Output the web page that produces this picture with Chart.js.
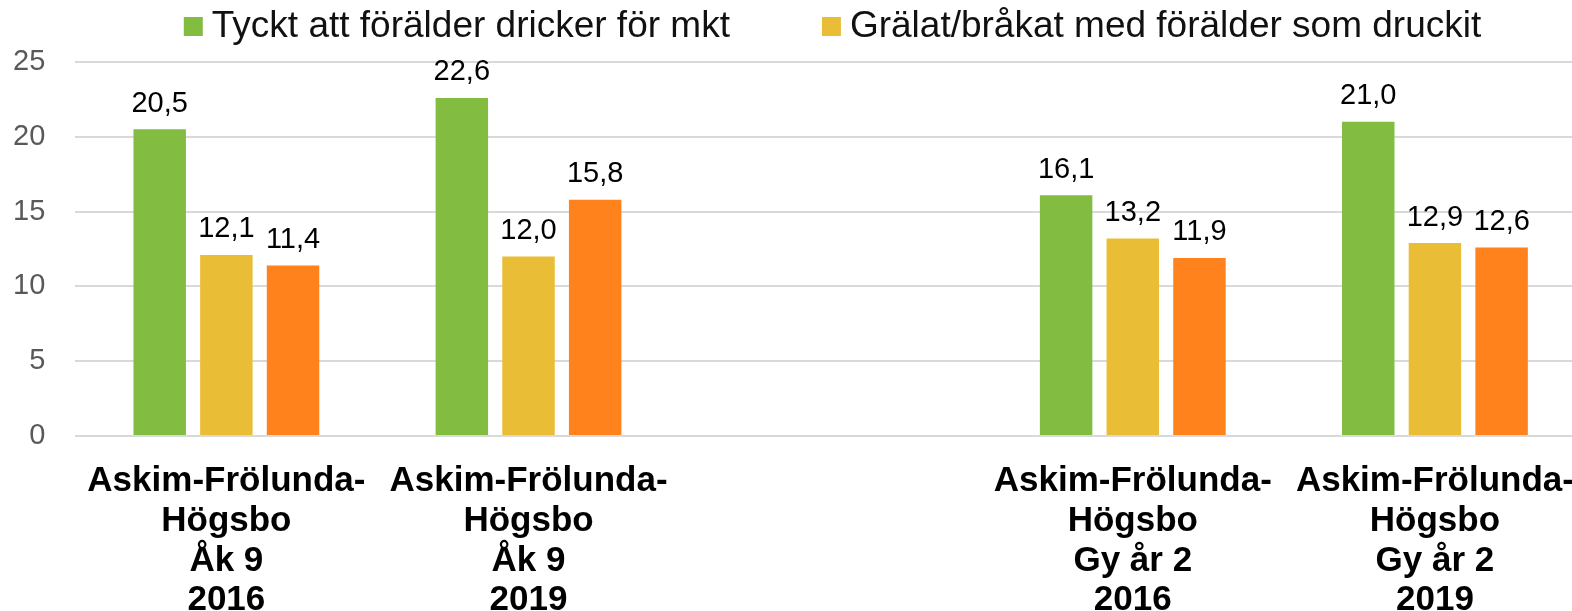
<!DOCTYPE html>
<html>
<head>
<meta charset="utf-8">
<script src="https://cdn.jsdelivr.net/npm/chart.js@4"></script>
<style>
  html, body { margin: 0; padding: 0; background: #fff; overflow: hidden; }
  #wrap { width: 1572px; height: 611px; overflow: hidden; position: relative; }
  canvas { display: block; }
</style>
</head>
<body>
<div id="wrap"><canvas id="c" width="1590" height="611"></canvas></div>
<script>
// ---- data ----
const categories = [
  ['Askim-Frölunda-', 'Högsbo', 'Åk 9', '2016'],
  ['Askim-Frölunda-', 'Högsbo', 'Åk 9', '2019'],
  '',
  ['Askim-Frölunda-', 'Högsbo', 'Gy år 2', '2016'],
  ['Askim-Frölunda-', 'Högsbo', 'Gy år 2', '2019']
];
const seriesNames = ['Tyckt att förälder dricker för mkt', 'Grälat/bråkat med förälder som druckit', ''];
const tycktValues = [20.5, 22.6, null, 16.1, 21.0];
const gralatValues = [12.1, 12.0, null, 13.2, 12.9];
const thirdValues = [11.4, 15.8, null, 11.9, 12.6];
const yTicks = [0, 5, 10, 15, 20, 25];

const FONT = '"Liberation Sans", Arial, Helvetica, sans-serif';
Chart.defaults.font.family = FONT;

const fmt = v => v.toFixed(1).replace('.', ',');

// value labels above bars
const valueLabels = {
  id: 'valueLabels',
  afterDatasetsDraw(chart) {
    const ctx = chart.ctx;
    ctx.save();
    ctx.font = '29px ' + FONT;
    ctx.fillStyle = '#000';
    ctx.textAlign = 'center';
    ctx.textBaseline = 'alphabetic';
    chart.data.datasets.forEach((ds, di) => {
      const meta = chart.getDatasetMeta(di);
      meta.data.forEach((el, i) => {
        const v = ds.data[i];
        if (v === null || v === undefined) return;
        ctx.fillText(fmt(v), el.x, el.y - 17.5);
      });
    });
    ctx.restore();
  }
};

// legend (only the first two entries are visible in the original)
const topLegend = {
  id: 'topLegend',
  afterDraw(chart, args, opts) {
    const ctx = chart.ctx;
    ctx.save();
    ctx.font = opts.fontSize + 'px ' + FONT;
    const items = chart.data.datasets.slice(0, opts.count).map(ds => ({
      text: ds.label, color: ds.backgroundColor, w: ctx.measureText(ds.label).width
    }));
    let total = 0;
    items.forEach((it, i) => { total += opts.box + opts.gap + it.w + (i ? opts.spacing : 0); });
    let x = opts.center - total / 2;
    items.forEach(it => {
      ctx.fillStyle = it.color;
      ctx.fillRect(x, opts.boxTop, opts.box, opts.box);
      ctx.fillStyle = '#111';
      ctx.textAlign = 'left';
      ctx.textBaseline = 'alphabetic';
      ctx.fillText(it.text, x + opts.box + opts.gap, opts.baseline);
      x += opts.box + opts.gap + it.w + opts.spacing;
    });
    ctx.restore();
  }
};

new Chart(document.getElementById('c'), {
  type: 'bar',
  data: {
    labels: categories,
    datasets: [
      { label: seriesNames[0], data: tycktValues, backgroundColor: '#82BC41' },
      { label: seriesNames[1], data: gralatValues, backgroundColor: '#E9BE36' },
      { label: seriesNames[2], data: thirdValues, backgroundColor: '#FF821C' }
    ]
  },
  options: {
    responsive: false,
    animation: false,
    devicePixelRatio: 1,
    layout: { padding: { top: 62, left: 0, right: 4, bottom: 0 } },
    datasets: { bar: { categoryPercentage: 0.662, barPercentage: 0.787 } },
    plugins: {
      legend: { display: false },
      tooltip: { enabled: false },
      topLegend: { count: 2, fontSize: 37, box: 19, gap: 9, spacing: 92, center: 832.5, boxTop: 17, baseline: 37 }
    },
    scales: {
      x: {
        grid: { display: false, drawTicks: true, tickLength: 26 },
        border: { display: false },
        ticks: {
          autoSkip: false, maxRotation: 0, minRotation: 0,
          color: '#000',
          font: { size: 35, weight: 'bold', lineHeight: 1.13 },
          padding: 0
        },
        afterFit(s) { s.height = 175; }
      },
      y: {
        min: 0, max: 25,
        afterBuildTicks(s) { s.ticks = yTicks.map(v => ({ value: v })); },
        grid: { color: '#D9D9D9', lineWidth: 2, drawTicks: false },
        border: { display: false },
        ticks: { color: '#595959', font: { size: 29 }, padding: 30, stepSize: 5 },
        afterFit(s) { s.width = 75.3; }
      }
    }
  },
  plugins: [valueLabels, topLegend]
});
</script>
</body>
</html>
